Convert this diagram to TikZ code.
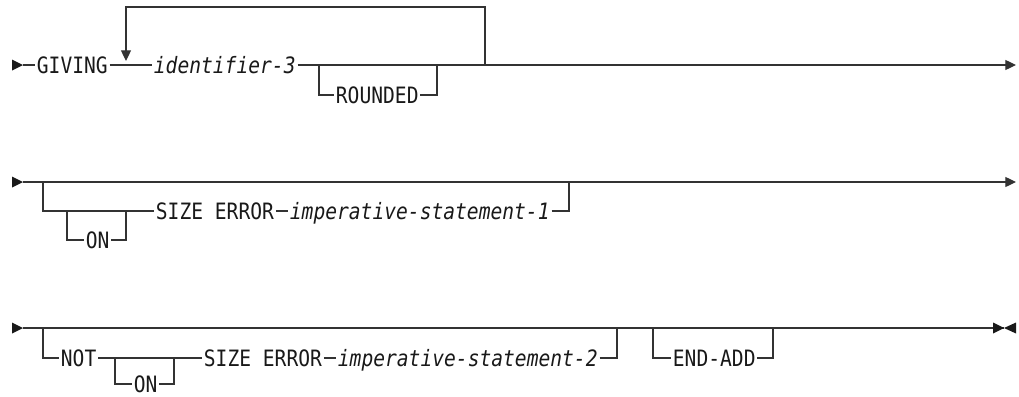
\documentclass[tikz,border=0pt]{standalone}
\usepackage{fontspec}
\newfontfamily\synfont[FakeStretch=0.87]{DejaVu Sans Mono}
\usetikzlibrary{arrows.meta,positioning}

\begin{document}
\begin{tikzpicture}[x=0.75pt,y=-0.75pt,line width=0.9pt,
 kw/.style={inner xsep=1pt,inner ysep=0pt,text height=12.3pt,text depth=0pt,anchor=west,
  text=black!90,font=\synfont\fontsize{16.9pt}{18pt}\selectfont},
 var/.style={kw,font=\synfont\itshape\fontsize{16.9pt}{18pt}\selectfont},
 ln/.style={draw=black!80},
 go/.style={ln,-{Triangle[length=8pt,width=7.5pt]}},
 mk/.style={fill=black!90}]
\useasboundingbox (0,0) rectangle (1019,396);
% row 1
\coordinate (s1) at (23,65);
\node[kw] (giving) at (35,65) {GIVING};
\node[var] (id3) at (152,65) {identifier-3};
\coordinate (r1a) at (319,65);
\coordinate (r1b) at (437,65);
\node[kw] (rounded) at (334,95) {ROUNDED};
\coordinate (lp) at (485,65);
\coordinate (top) at (0,7);
\coordinate (lq) at (126,61);
\coordinate (e1) at (1016,65);
\fill[mk] (s1) -- ++(-11,-5.5) -- ++(0,11) -- cycle;
\draw[ln] (s1) -- (giving.west);
\draw[ln] (giving.east) -- (id3.west);
\draw[go] (id3.east) -- (e1);
\draw[ln] (r1a) |- (rounded.west);
\draw[ln] (rounded.east) -| (r1b);
\draw[go] (lp) -- (lp |- top) -| (lq);
% row 2
\coordinate (s2) at (23,182);
\coordinate (e2) at (1016,182);
\coordinate (b2a) at (43,182);
\coordinate (b2b) at (569,182);
\coordinate (o2a) at (67,211);
\coordinate (o2b) at (126,211);
\node[kw] (on1) at (84,240) {ON};
\node[kw] (size1) at (154,211) {SIZE ERROR};
\node[var] (stmt1) at (288,211) {imperative-statement-1};
\fill[mk] (s2) -- ++(-11,-5.5) -- ++(0,11) -- cycle;
\draw[go] (s2) -- (e2);
\draw[ln] (b2a) |- (size1.west);
\draw[ln] (o2a) |- (on1.west);
\draw[ln] (on1.east) -| (o2b);
\draw[ln] (size1.east) -- (stmt1.west);
\draw[ln] (stmt1.east) -| (b2b);
% row 3
\coordinate (s3) at (23,328);
\coordinate (e3) at (1004,328);
\coordinate (b3a) at (43,328);
\coordinate (b3b) at (617,328);
\node[kw] (not) at (59,358) {NOT};
\coordinate (o3a) at (115,358);
\coordinate (o3b) at (174,358);
\node[kw] (on2) at (132,384) {ON};
\node[kw] (size2) at (202,358) {SIZE ERROR};
\node[var] (stmt2) at (336,358) {imperative-statement-2};
\coordinate (c3a) at (653,328);
\coordinate (c3b) at (773,328);
\node[kw] (endadd) at (671,358) {END-ADD};
\fill[mk] (s3) -- ++(-11,-5.5) -- ++(0,11) -- cycle;
\draw[ln] (s3) -- (e3);
\fill[mk] (e3) -- ++(-11,-5.5) -- ++(0,11) -- cycle;
\fill[mk] (e3) -- ++(12,-5.5) -- ++(0,11) -- cycle;
\draw[ln] (b3a) |- (not.west);
\draw[ln] (not.east) -- (size2.west);
\draw[ln] (o3a) |- (on2.west);
\draw[ln] (on2.east) -| (o3b);
\draw[ln] (size2.east) -- (stmt2.west);
\draw[ln] (stmt2.east) -| (b3b);
\draw[ln] (c3a) |- (endadd.west);
\draw[ln] (endadd.east) -| (c3b);
\end{tikzpicture}
\end{document}
